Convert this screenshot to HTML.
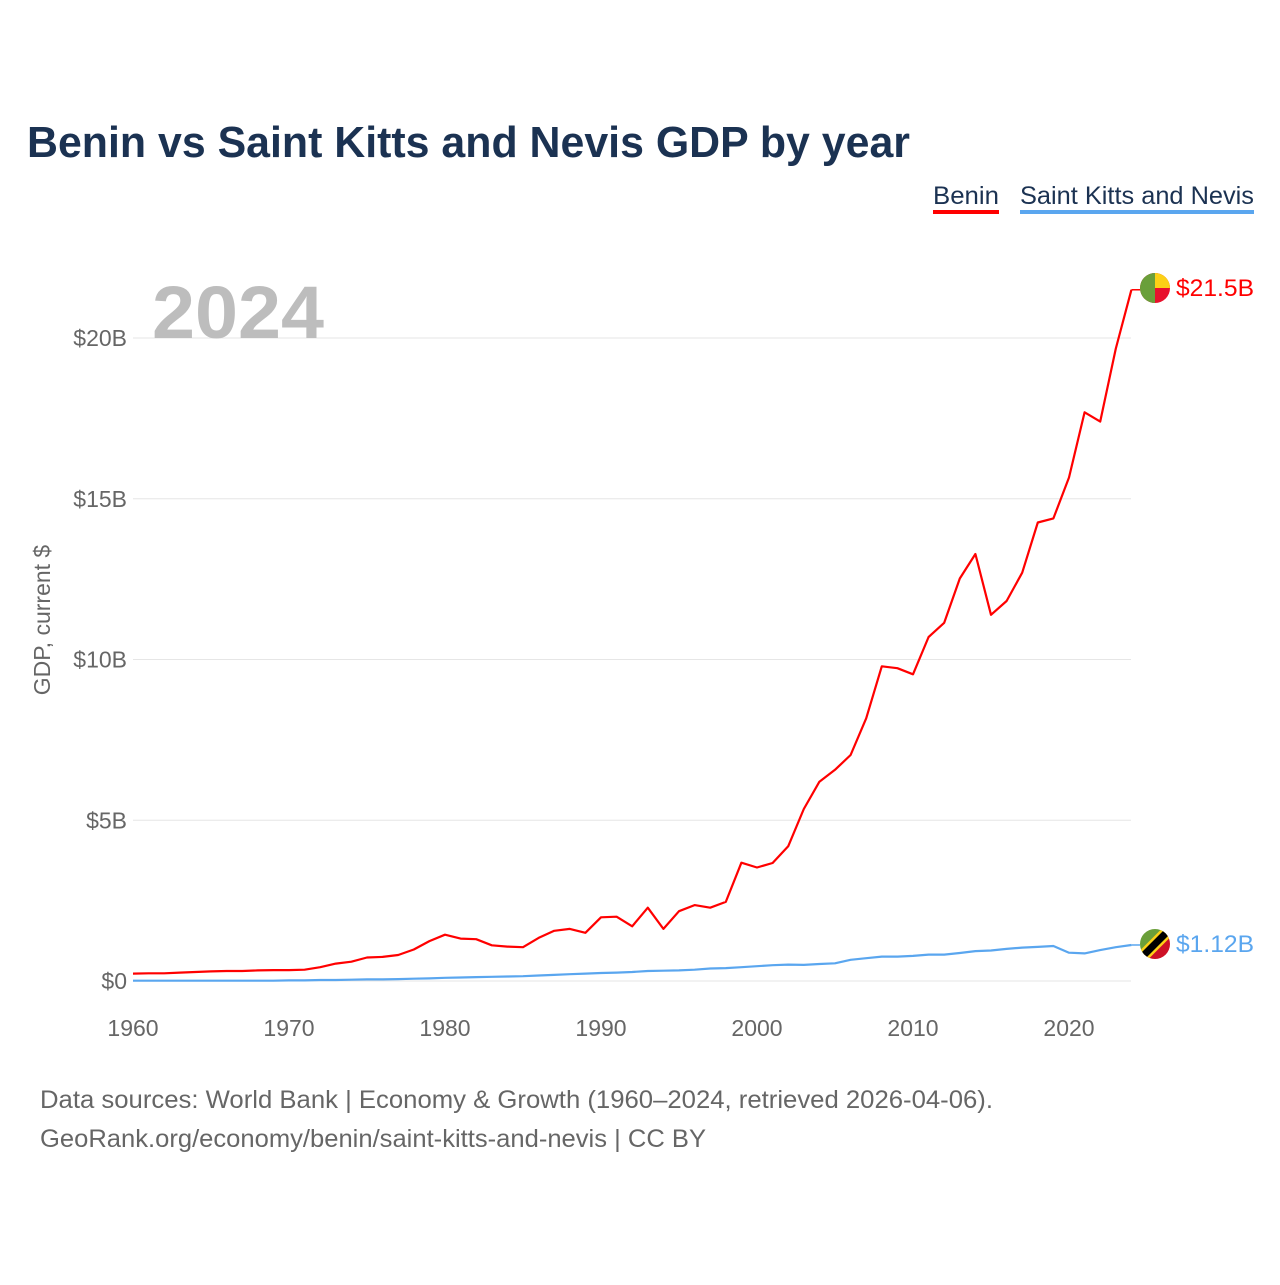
<!DOCTYPE html>
<html><head><meta charset="utf-8"><style>
body{margin:0;background:#fff;font-family:"Liberation Sans",sans-serif;}
</style></head><body>
<svg id="chart" width="1280" height="1280" xmlns="http://www.w3.org/2000/svg">
<rect width="1280" height="1280" fill="#fff"/>
<text x="27" y="157" font-size="44" font-weight="bold" fill="#1b3252" textLength="883" lengthAdjust="spacingAndGlyphs">Benin vs Saint Kitts and Nevis GDP by year</text>
<g><text x="933" y="204" font-size="25" fill="#1b3252" textLength="66" lengthAdjust="spacingAndGlyphs">Benin</text><rect x="933" y="210" width="66" height="4" fill="#ff0000"/></g>
<g><text x="1020" y="204" font-size="25" fill="#1b3252" textLength="234" lengthAdjust="spacingAndGlyphs">Saint Kitts and Nevis</text><rect x="1020" y="210" width="234" height="4" fill="#5aa6ef"/></g>
<g id="grid"></g><g id="yt"></g><g id="xt"></g>
<text x="152" y="338" font-size="74" font-weight="bold" fill="#bdbdbd" textLength="172" lengthAdjust="spacingAndGlyphs">2024</text>
<text transform="translate(50,620) rotate(-90)" text-anchor="middle" font-size="23" fill="#666">GDP, current $</text>
<g id="series"></g>
<g>
<clipPath id="c1"><circle cx="1155" cy="288" r="15"/></clipPath>
<g clip-path="url(#c1)"><rect x="1140" y="273" width="30" height="30" fill="#e8112d"/><rect x="1155" y="273" width="15" height="15" fill="#fcd116"/><rect x="1140" y="273" width="15" height="30" fill="#6a9f3a"/></g></g>
<g>
<clipPath id="c2"><circle cx="1155" cy="944" r="15"/></clipPath>
<g clip-path="url(#c2)"><polygon points="1140,929 1170,929 1140,959" fill="#6a9f3a"/><polygon points="1170,929 1170,959 1140,959" fill="#ce1126"/><line x1="1140" y1="959" x2="1170" y2="929" stroke="#fcd116" stroke-width="12"/><line x1="1140" y1="959" x2="1170" y2="929" stroke="#000" stroke-width="7"/></g></g>
<text x="1176" y="296" font-size="24" fill="#ff0000" textLength="78" lengthAdjust="spacingAndGlyphs">$21.5B</text>
<text x="1176" y="952" font-size="24" fill="#5aa6ef" textLength="78" lengthAdjust="spacingAndGlyphs">$1.12B</text>
<text x="40" y="1108" font-size="25" fill="#666" textLength="953" lengthAdjust="spacingAndGlyphs">Data sources: World Bank | Economy &amp; Growth (1960–2024, retrieved 2026-04-06).</text>
<text x="40" y="1147" font-size="25" fill="#666" textLength="666" lengthAdjust="spacingAndGlyphs">GeoRank.org/economy/benin/saint-kitts-and-nevis | CC BY</text>
</svg>
<script>
const startYear = 1960;
const benin = [0.23,0.24,0.24,0.26,0.28,0.30,0.31,0.31,0.33,0.34,0.34,0.35,0.43,0.54,0.60,0.73,0.75,0.81,0.98,1.24,1.44,1.32,1.30,1.11,1.07,1.05,1.34,1.56,1.62,1.50,1.98,2.00,1.70,2.28,1.62,2.17,2.36,2.28,2.46,3.68,3.53,3.67,4.19,5.35,6.20,6.57,7.03,8.17,9.79,9.73,9.54,10.70,11.14,12.52,13.28,11.39,11.82,12.70,14.26,14.39,15.66,17.69,17.40,19.67,21.5];
const skn = [0.01,0.01,0.01,0.01,0.01,0.01,0.01,0.01,0.01,0.01,0.02,0.02,0.03,0.03,0.04,0.05,0.05,0.06,0.07,0.08,0.10,0.11,0.12,0.13,0.14,0.15,0.17,0.19,0.21,0.23,0.25,0.26,0.28,0.31,0.32,0.33,0.35,0.39,0.40,0.43,0.46,0.49,0.51,0.50,0.53,0.55,0.66,0.71,0.76,0.76,0.78,0.82,0.82,0.87,0.93,0.95,1.00,1.04,1.06,1.09,0.88,0.86,0.96,1.05,1.12];
const yTicks = [0,5,10,15,20];
const yTickLabels = ["$0","$5B","$10B","$15B","$20B"];
const xTicks = [1960,1970,1980,1990,2000,2010,2020];
const NS="http://www.w3.org/2000/svg";
const x = yr => 133 + (yr-1960)*15.6;
const y = v => 981 - v*32.15;
function mk(tag, attrs, parent){const e=document.createElementNS(NS,tag);for(const k in attrs)e.setAttribute(k,attrs[k]);document.getElementById(parent).appendChild(e);return e;}
yTicks.forEach((t,i)=>{
  const l=mk('line',{x1:133,x2:1131,y1:y(t),y2:y(t),stroke:'#e6e6e6','stroke-width':1},'grid');
  
  
  const tx=mk('text',{x:127,y:y(t)+8,'text-anchor':'end','font-size':23,fill:'#666'},'yt');
  tx.textContent=yTickLabels[i];
  
  
});
xTicks.forEach(t=>{
  const tx=mk('text',{x:x(t),y:1036,'text-anchor':'middle','font-size':23,fill:'#666'},'xt');
  tx.textContent=t;
  
  
});
function line(data,color,name){
  const d=data.map((v,i)=>(i?'L':'M')+x(startYear+i).toFixed(1)+','+y(v).toFixed(1)).join(' ');
  const p=mk('path',{d:d,fill:'none',stroke:color,'stroke-width':2.2,'stroke-linejoin':'round'},'series');
  
  
  const last=data[data.length-1];
  const c=mk('line',{x1:x(startYear+data.length-1),x2:1140,y1:y(last),y2:y(last),stroke:color,'stroke-width':1.5},'series');
  
  
}
line(benin,'#ff0000','benin-line');
line(skn,'#5aa6ef','skn-line');
</script>
</body></html>
